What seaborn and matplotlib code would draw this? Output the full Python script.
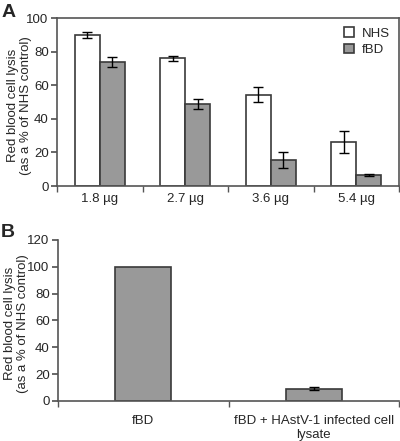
import numpy as np
import pandas as pd
import seaborn as sns
import matplotlib.pyplot as plt

sns.set_theme(style="white")
plt.rcParams['font.family'] = ['Liberation Sans', 'DejaVu Sans']

# Panel A data
doses = ['1.8 µg', '2.7 µg', '3.6 µg', '5.4 µg']
nhs_vals = [90, 76, 54.5, 26]
nhs_err = [2, 1.5, 4.5, 6.5]
fbd_vals = [74, 49, 15.5, 6.5]
fbd_err = [3, 3, 5, 0.5]

# Panel B data
b_labels = ['fBD', 'fBD + HAstV-1 infected cell\nlysate']
b_vals = [100, 9]
b_err = [0, 1]

edge = '#3a3a3a'
grey = '#999999'
spine_col = '#555555'
fs = 9.5
ylab = 'Red blood cell lysis\n(as a % of NHS control)'

df_a = pd.DataFrame({
    'dose': doses * 2,
    'val': nhs_vals + fbd_vals,
    'err': nhs_err + fbd_err,
    'grp': ['NHS'] * 4 + ['fBD'] * 4,
})
df_b = pd.DataFrame({'cond': b_labels, 'val': b_vals, 'err': b_err})

fig = plt.figure(figsize=(4.0, 4.41), dpi=100)
ax_a = fig.add_axes([0.1425, 0.578, 0.855, 0.381])
ax_b = fig.add_axes([0.145, 0.091, 0.853, 0.365])

# --- Panel A ---
sns.barplot(data=df_a, x='dose', y='val', hue='grp', palette={'NHS': 'white', 'fBD': grey},
            width=0.58, edgecolor=edge, linewidth=1.2, errorbar=None, ax=ax_a)
for p, e in zip(ax_a.patches, nhs_err + fbd_err):
    cx = p.get_x() + p.get_width() / 2
    ax_a.errorbar(cx, p.get_height(), yerr=e, color='black', capsize=3.5, elinewidth=1, capthick=1)
ax_a.set_ylim(0, 100)
ax_a.set_xlim(-0.5, 3.5)
ax_a.set_yticks([0, 20, 40, 60, 80, 100])
ax_a.set_xlabel('')
ax_a.set_ylabel(ylab, fontsize=fs, linespacing=1.15, va='center')
ax_a.yaxis.set_label_coords(-0.11, 0.48)
ax_a.legend(loc='upper right', frameon=False, fontsize=fs, handlelength=0.7, handleheight=0.7,
            handletextpad=0.6, labelspacing=0.3, borderaxespad=0.3)
for s in ax_a.spines.values():
    s.set_color(spine_col)
    s.set_linewidth(1.2)
ax_a.set_xticks([-0.5, 0.5, 1.5, 2.5, 3.5], minor=True)
ax_a.tick_params(axis='x', which='major', length=0, labelsize=fs, pad=5)
ax_a.tick_params(axis='x', which='minor', length=4, direction='out', color=spine_col, bottom=True)
ax_a.tick_params(axis='y', length=4, direction='out', color=spine_col, left=True, labelsize=fs, pad=2)

# --- Panel B ---
sns.barplot(data=df_b, x='cond', y='val', color=grey, width=0.33, edgecolor=edge,
            linewidth=1.2, errorbar=None, ax=ax_b)
for p, e in zip(ax_b.patches, b_err):
    if e > 0:
        cx = p.get_x() + p.get_width() / 2
        ax_b.errorbar(cx, p.get_height(), yerr=e, color='black', capsize=3.5, elinewidth=1, capthick=1)
ax_b.set_ylim(0, 120)
ax_b.set_xlim(-0.5, 1.5)
ax_b.set_yticks([0, 20, 40, 60, 80, 100, 120])
ax_b.set_xlabel('')
ax_b.set_ylabel(ylab, fontsize=fs, linespacing=1.15, va='center')
ax_b.yaxis.set_label_coords(-0.122, 0.48)
sns.despine(ax=ax_b)
for s in ['left', 'bottom']:
    ax_b.spines[s].set_color(spine_col)
    ax_b.spines[s].set_linewidth(1.2)
ax_b.set_xticks([-0.5, 0.5, 1.5], minor=True)
ax_b.tick_params(axis='x', which='major', length=0, labelsize=fs, pad=10)
ax_b.tick_params(axis='x', which='minor', length=4, direction='out', color=spine_col, bottom=True)
ax_b.tick_params(axis='y', length=4, direction='out', color=spine_col, left=True, labelsize=fs, pad=2)

fig.text(0.003, 0.99, 'A', fontsize=14, fontweight='bold', va='top', ha='left')
fig.text(0.003, 0.492, 'B', fontsize=14, fontweight='bold', va='top', ha='left')

fig.savefig('out.png', dpi=100)
